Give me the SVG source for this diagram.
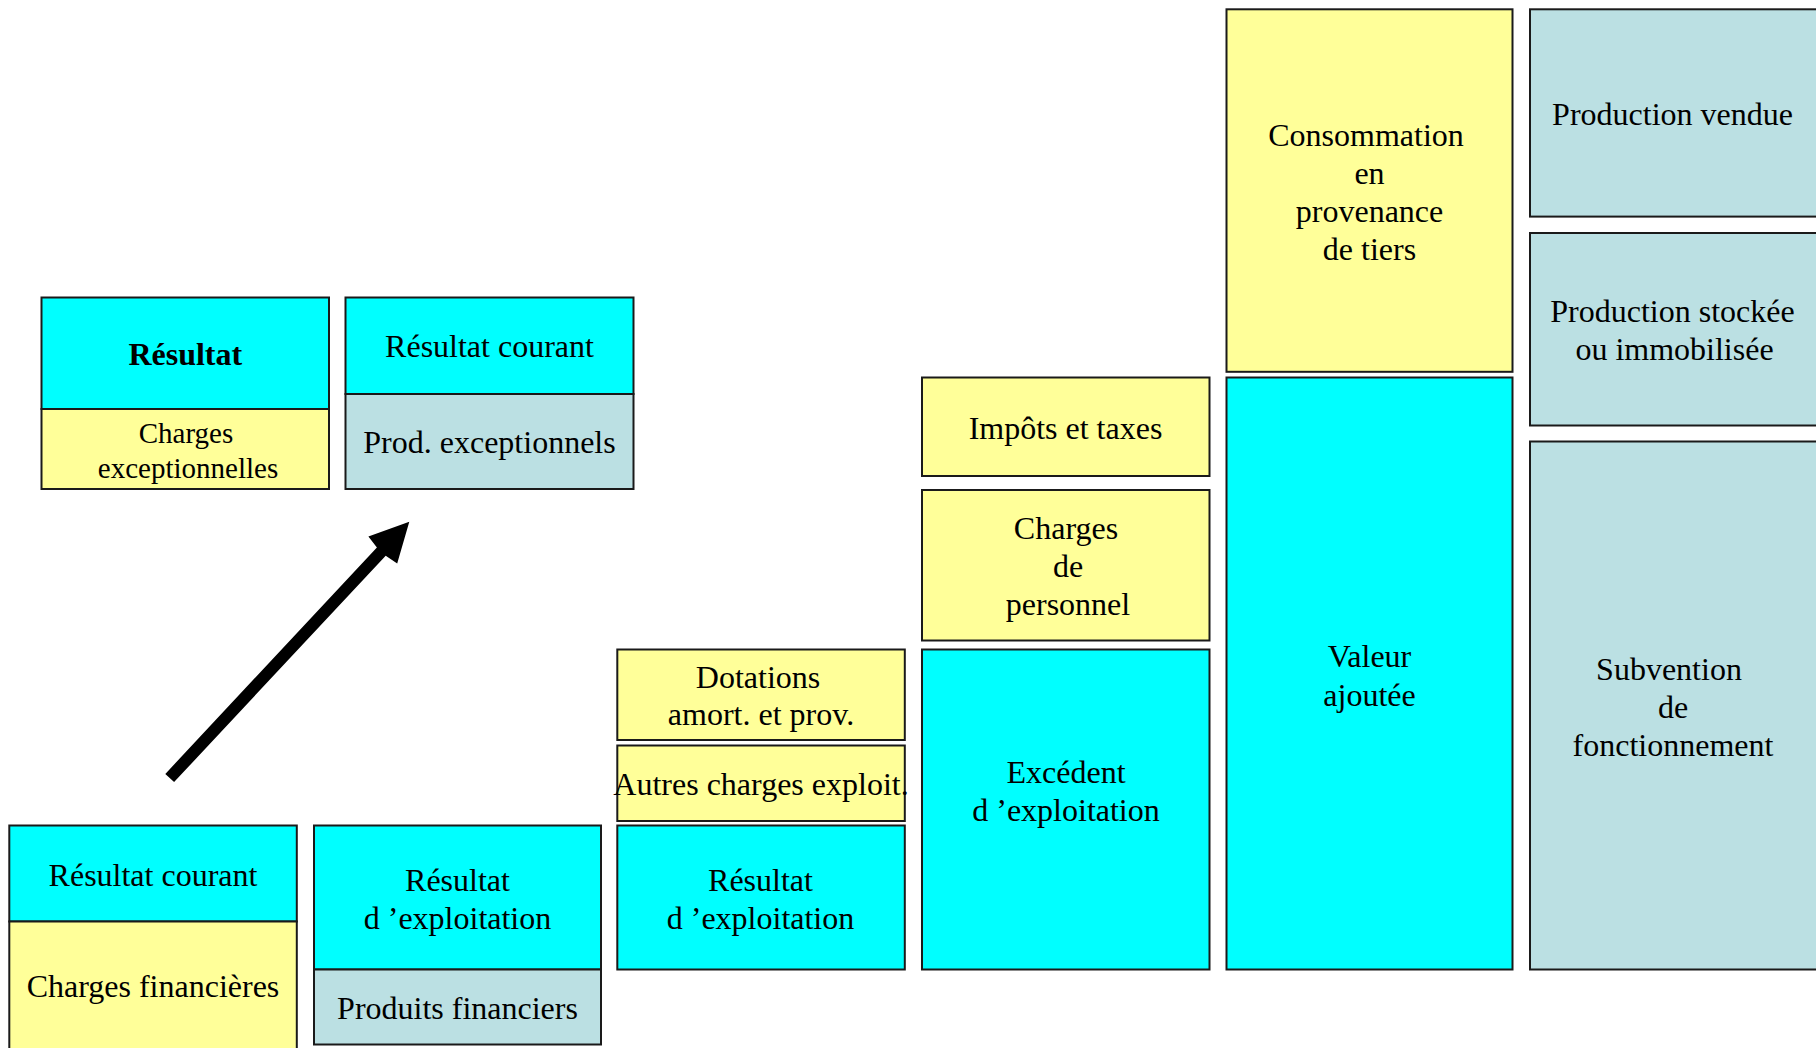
<svg xmlns="http://www.w3.org/2000/svg" width="1816" height="1048" viewBox="0 0 1816 1048">
  <style>
    .box { stroke: #1a1a1a; stroke-width: 2; }
    .cyan { fill: #00FFFF; }
    .yel { fill: #FFFF99; }
    .blu { fill: #BBE0E3; }
    text { font-family: "Liberation Serif", "Times New Roman", serif; font-size: 32px; fill: #000; text-anchor: middle; }
    .small { font-size: 29px; }
    .bold { font-weight: bold; }
  </style>
  <rect width="1816" height="1048" fill="#FFFFFF"/>

  <!-- Top-left pair: final result -->
  <g id="resultat">
    <rect class="box cyan" x="41.5" y="297.5" width="287.5" height="111.5"/>
    <text class="bold" x="185.3" y="365">Résultat</text>
  </g>
  <g id="charges-exceptionnelles">
    <rect class="box yel" x="41.5" y="409" width="287.5" height="80"/>
    <text class="small" x="186" y="442.5">Charges</text>
    <text class="small" x="188" y="477.5">exceptionnelles</text>
  </g>
  <g id="resultat-courant-haut">
    <rect class="box cyan" x="345.5" y="297.5" width="288" height="96.5"/>
    <text x="489.5" y="357">Résultat courant</text>
  </g>
  <g id="prod-exceptionnels">
    <rect class="box blu" x="345.5" y="394" width="288" height="95"/>
    <text x="489.5" y="453">Prod. exceptionnels</text>
  </g>

  <!-- Bottom-left pair: current result -->
  <g id="resultat-courant-bas">
    <rect class="box cyan" x="9.3" y="825.5" width="287.5" height="96"/>
    <text x="153" y="885.5">Résultat courant</text>
  </g>
  <g id="charges-financieres">
    <rect class="box yel" x="9.3" y="921.5" width="287.5" height="140"/>
    <text x="153" y="996.5">Charges financières</text>
  </g>
  <g id="resultat-exploitation-1">
    <rect class="box cyan" x="314" y="825.5" width="287" height="144"/>
    <text x="457.5" y="891">Résultat</text>
    <text x="457.5" y="929">d ’exploitation</text>
  </g>
  <g id="produits-financiers">
    <rect class="box blu" x="314" y="969.5" width="287" height="75"/>
    <text x="457.5" y="1019">Produits financiers</text>
  </g>

  <!-- Column 3: operating result -->
  <g id="dotations">
    <rect class="box yel" x="617.3" y="649.5" width="287.5" height="90.5"/>
    <text x="758" y="687.5">Dotations</text>
    <text x="761" y="724.5">amort. et prov.</text>
  </g>
  <g id="autres-charges">
    <rect class="box yel" x="617.3" y="745.5" width="287.5" height="75.5"/>
    <text x="761" y="795">Autres charges exploit.</text>
  </g>
  <g id="resultat-exploitation-2">
    <rect class="box cyan" x="617.3" y="825.5" width="287.5" height="144"/>
    <text x="760.5" y="891">Résultat</text>
    <text x="760.5" y="929">d ’exploitation</text>
  </g>

  <!-- Column 4: gross operating surplus -->
  <g id="impots-taxes">
    <rect class="box yel" x="922" y="377.5" width="287.5" height="98.5"/>
    <text x="1065.5" y="439">Impôts et taxes</text>
  </g>
  <g id="charges-personnel">
    <rect class="box yel" x="922" y="490" width="287.5" height="150.5"/>
    <text x="1066" y="539">Charges</text>
    <text x="1068" y="577">de</text>
    <text x="1068" y="615">personnel</text>
  </g>
  <g id="excedent-exploitation">
    <rect class="box cyan" x="922" y="649.5" width="287.5" height="320"/>
    <text x="1066" y="783">Excédent</text>
    <text x="1066" y="821">d ’exploitation</text>
  </g>

  <!-- Column 5: value added -->
  <g id="consommation-tiers">
    <rect class="box yel" x="1226.5" y="9.3" width="286" height="362.5"/>
    <text x="1366" y="145.5">Consommation</text>
    <text x="1369.5" y="183.5">en</text>
    <text x="1369.5" y="221.5">provenance</text>
    <text x="1369.5" y="259.5">de tiers</text>
  </g>
  <g id="valeur-ajoutee">
    <rect class="box cyan" x="1226.5" y="377.5" width="286" height="592"/>
    <text x="1369.5" y="667">Valeur</text>
    <text x="1369.5" y="705.5">ajoutée</text>
  </g>

  <!-- Column 6: production -->
  <g id="production-vendue">
    <rect class="box blu" x="1530" y="9.3" width="288" height="207.3"/>
    <text x="1672.5" y="125">Production vendue</text>
  </g>
  <g id="production-stockee">
    <rect class="box blu" x="1530" y="233" width="288" height="192.5"/>
    <text x="1672.5" y="322">Production stockée</text>
    <text x="1674.5" y="360">ou immobilisée</text>
  </g>
  <g id="subvention">
    <rect class="box blu" x="1530" y="441.5" width="288" height="528"/>
    <text x="1669" y="680">Subvention</text>
    <text x="1673" y="718">de</text>
    <text x="1673" y="756">fonctionnement</text>
  </g>

  <!-- Connector -->
  <g id="connectors">
    <polygon fill="#000" points="409.3,521.7 397.2,563.5 385.7,555.7 174.1,782.1 165.3,773.9 376.9,547.5 368.4,536.5"/>
  </g>
</svg>
